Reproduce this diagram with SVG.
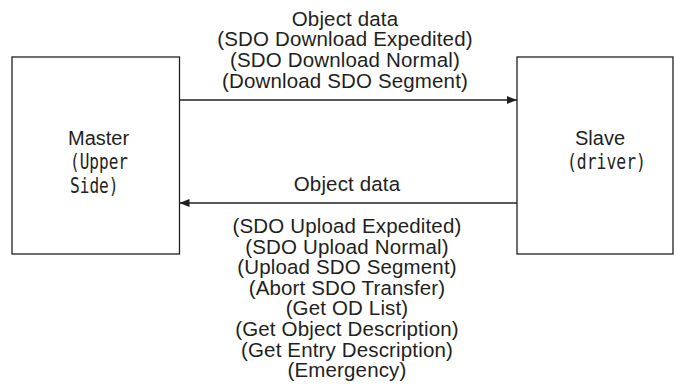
<svg xmlns="http://www.w3.org/2000/svg" width="674" height="388" viewBox="0 0 674 388">
<style>
.box{fill:#fff;stroke:#231f20;stroke-width:1.3}
.ln{stroke:#231f20;stroke-width:1.3;fill:none}
.t{font-family:"Liberation Sans",Arial,sans-serif;font-size:20.5px;letter-spacing:0.15px;fill:#231f20;text-anchor:middle}
.n{font-family:"Liberation Sans",Arial,sans-serif;font-size:20px;fill:#231f20}
.m{font-family:"DejaVu Sans Mono",monospace;font-size:22px;fill:#231f20}
</style>
<defs>
<marker id="ah" markerWidth="10" markerHeight="8" refX="10" refY="4" orient="auto" markerUnits="userSpaceOnUse">
<path d="M0,0 L10,4 L0,8 Z" fill="#231f20"/>
</marker>
</defs>
<rect width="674" height="388" fill="#fff"/>
<g id="master">
<rect class="box" x="12" y="57" width="167.5" height="197"/>
<text class="n" x="68" y="145">Master</text>
<text class="m" x="70" y="169" textLength="58" lengthAdjust="spacingAndGlyphs">(Upper</text>
<text class="m" x="70" y="193" textLength="48.5" lengthAdjust="spacingAndGlyphs">Side)</text>
</g>
<g id="slave">
<rect class="box" x="517" y="57" width="156" height="197"/>
<text class="n" x="575" y="145">Slave</text>
<text class="m" x="567" y="169" textLength="79" lengthAdjust="spacingAndGlyphs">(driver)</text>
</g>
<g id="connectors">
<line class="ln" x1="179.5" y1="100" x2="517" y2="100" marker-end="url(#ah)"/>
<line class="ln" x1="517" y1="203" x2="179.5" y2="203" marker-end="url(#ah)"/>
</g>
<g id="labels">
<text class="t" x="345" y="25.5">Object data</text>
<text class="t" x="345" y="46.2">(SDO Download Expedited)</text>
<text class="t" x="345" y="66.9">(SDO Download Normal)</text>
<text class="t" x="345" y="87.6">(Download SDO Segment)</text>
<text class="t" x="347" y="191">Object data</text>
<text class="t" x="347" y="233">(SDO Upload Expedited)</text>
<text class="t" x="347" y="253.6">(SDO Upload Normal)</text>
<text class="t" x="347" y="274.2">(Upload SDO Segment)</text>
<text class="t" x="347" y="294.8">(Abort SDO Transfer)</text>
<text class="t" x="347" y="315.4">(Get OD List)</text>
<text class="t" x="347" y="336">(Get Object Description)</text>
<text class="t" x="347" y="356.6">(Get Entry Description)</text>
<text class="t" x="347" y="377.2">(Emergency)</text>
</g>
</svg>
